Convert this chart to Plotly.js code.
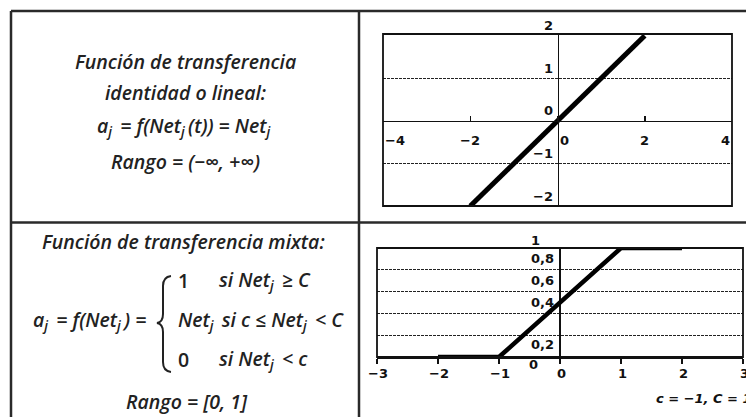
<!DOCTYPE html>
<html>
<head>
<meta charset="utf-8">
<script src="https://cdn.plot.ly/plotly-3.0.1.min.js"></script>
<style>
  html, body { margin: 0; padding: 0; background: #fff; overflow: hidden; }
  #chart { width: 746px; height: 417px; }
</style>
</head>
<body>
<div id="chart"></div>
<script>
// Identity (linear) transfer function: a = Net
const netLinear = [-2, 2];
const outLinear = [-2, 2];
const linearXTicks = [-4, -2, 0, 2, 4];
const linearXLabels = ['\u22124', '\u22122', '0', '2', '4'];
const linearYTicks = [2, 1, 0, -1, -2];
const linearYLabels = ['2', '1', '0', '\u22121', '\u22122'];
const linearGridY = [-1, 1];

// Mixed (saturating ramp) transfer function with c = -1, C = 1
const netMixed = [-2, -1, 1, 2];
const outMixed = [0, 0, 1, 1];
const mixedXTicks = [-3, -2, -1, 0, 1, 2, 3];
const mixedXLabels = ['\u22123', '\u22122', '\u22121', '0', '1', '2', '3'];
const mixedYTicks = [1, 0.8, 0.6, 0.4, 0.2, 0];
const mixedYLabels = ['1', '0,8', '0,6', '0,4', '0,2', '0'];
const mixedGridY = [0.2, 0.4, 0.6, 0.8];

// ---- page geometry (pixels) ----
const W = 746, H = 417;
const px = x => x / W;
const py = y => 1 - y / H;

const ink = '#222';
const tickFont = { family: 'DejaVu Sans', size: 13, color: '#111', weight: 'bold' };
const textFont = { family: 'Open Sans', size: 19.5, color: ink, style: 'italic', weight: 600 };

// per-label placement tweaks for the axis labels
const linearXAnchor = ['left', 'center', 'left', 'center', 'right'];
const mixedYShift = [8, 11, 11, 11, -9, -7];
const mixedYXShift = [-18, -4, -4, -4, -4, -20];

const annotations = [];

linearXTicks.forEach((v, i) => annotations.push({
  xref: 'x', yref: 'y', x: v, y: 0, text: linearXLabels[i],
  xanchor: linearXAnchor[i], yanchor: 'middle', yshift: -20,
  showarrow: false, font: tickFont
}));
linearYTicks.forEach((v, i) => annotations.push({
  xref: 'x', yref: 'y', x: 0, y: v, text: linearYLabels[i],
  xanchor: 'right', yanchor: 'middle', xshift: -3, yshift: 10,
  showarrow: false, font: tickFont
}));
mixedXTicks.forEach((v, i) => annotations.push({
  xref: 'x2', yref: 'y2', x: v, y: 0, text: mixedXLabels[i],
  xanchor: 'center', yanchor: 'middle', yshift: -16, xshift: 1,
  showarrow: false, font: tickFont
}));
mixedYTicks.forEach((v, i) => annotations.push({
  xref: 'x2', yref: 'y2', x: 0, y: v, text: mixedYLabels[i],
  xanchor: 'right', yanchor: 'middle', xshift: mixedYXShift[i], yshift: mixedYShift[i],
  showarrow: false, font: tickFont
}));

// cell texts
const sp = '\u2009';
const nb = '\u00a0';
const eq = nb + '=' + nb;
function txt(x, y, text, anchor, font) {
  annotations.push({
    xref: 'paper', yref: 'paper', x: px(x), y: py(y), text: text,
    xanchor: anchor || 'center', yanchor: 'middle', showarrow: false,
    font: Object.assign({}, textFont, font || {})
  });
}
const netj = 'Net<sub>j</sub>' + sp;
txt(185, 62, 'Función de transferencia');
txt(185, 93, 'identidad o lineal:');
txt(185, 126, 'a<sub>j</sub>' + sp + eq + 'f(' + netj + '(t))' + eq + netj);
txt(185, 161, 'Rango' + eq + '(\u2212\u221e,' + nb + '+\u221e)');

txt(183, 242, 'Función de transferencia mixta:');
txt(153, 320, 'a<sub>j</sub>' + sp + eq + 'f(' + netj + ')' + eq, 'right');
txt(176, 280, '1', 'left', { style: 'normal' });
txt(217, 280, 'si' + nb + netj + nb + '\u2265' + nb + 'C', 'left');
txt(176, 320, netj + nb + 'si' + nb + 'c' + nb + '\u2264' + nb + netj + nb + '<' + nb + 'C', 'left');
txt(176, 359, '0', 'left', { style: 'normal' });
txt(217, 359, 'si' + nb + netj + nb + '<' + nb + 'c', 'left');
txt(187, 401, 'Rango' + eq + '[0,' + nb + '1]');

annotations.push({
  xref: 'paper', yref: 'paper', x: px(654), y: py(398), text: 'c = \u22121, C = 1',
  xanchor: 'left', yanchor: 'middle', showarrow: false,
  font: { family: 'DejaVu Sans', size: 13, color: '#111', weight: 'bold', style: 'italic' }
});

// curly brace of the piecewise definition
const bracePts = [
  ['M', 171, 276], ['Q', 163, 277, 163, 286], ['L', 163, 314],
  ['Q', 163, 322, 157, 323], ['Q', 163, 324, 163, 332], ['L', 163, 362],
  ['Q', 163, 371, 171, 372]
];
const bracePath = bracePts.map(p => {
  const c = [];
  for (let k = 1; k < p.length; k += 2) c.push(px(p[k]) + ',' + py(p[k + 1]));
  return p[0] + c.join(' ');
}).join(' ');

const border = { color: '#2a2a2a', width: 2.5 };
const shapes = [
  { type: 'line', xref: 'paper', yref: 'paper', x0: px(11), x1: px(746), y0: py(11), y1: py(11), line: border },
  { type: 'line', xref: 'paper', yref: 'paper', x0: px(11), x1: px(11), y0: py(11), y1: py(417), line: border },
  { type: 'line', xref: 'paper', yref: 'paper', x0: px(359), x1: px(359), y0: py(11), y1: py(417), line: border },
  { type: 'line', xref: 'paper', yref: 'paper', x0: px(11), x1: px(746), y0: py(222.5), y1: py(222.5), line: border },
  { type: 'rect', xref: 'x domain', yref: 'y domain', x0: 0, x1: 1, y0: 0, y1: 1, line: { color: '#111', width: 1.8 } },
  { type: 'rect', xref: 'x2 domain', yref: 'y2 domain', x0: 0, x1: 1, y0: 0, y1: 1, line: { color: '#111', width: 1.8 } },
  { type: 'path', xref: 'paper', yref: 'paper', path: bracePath, line: { color: ink, width: 2 } }
];

// top chart geometry
const yRange1 = [-2, 2.04];
const yDom1 = [py(206), py(34)];
const xRange1 = [-4, 4];
const xDom1 = [px(383), px(732)];
const zeroY1 = yDom1[0] + (0 - yRange1[0]) / (yRange1[1] - yRange1[0]) * (yDom1[1] - yDom1[0]);
const zeroX1 = xDom1[0] + (0 - xRange1[0]) / (xRange1[1] - xRange1[0]) * (xDom1[1] - xDom1[0]);

const gridStyle = { showgrid: true, gridcolor: '#222', gridwidth: 1, griddash: '3px,1px' };

const layout = {
  width: W, height: H,
  margin: { l: 0, r: 0, t: 0, b: 0 },
  paper_bgcolor: '#fff', plot_bgcolor: '#fff',
  showlegend: false,
  xaxis: {
    domain: xDom1, range: xRange1, anchor: 'free', position: zeroY1,
    showline: true, linecolor: '#111', linewidth: 1.5,
    showgrid: false, zeroline: false,
    tickvals: linearXTicks, ticks: 'inside', ticklen: 5, tickcolor: '#111', tickwidth: 1.5,
    showticklabels: false, fixedrange: true
  },
  yaxis: Object.assign({
    domain: yDom1, range: yRange1, anchor: 'free', position: zeroX1,
    showline: true, linecolor: '#111', linewidth: 1.5,
    zeroline: false, tickvals: linearGridY, ticks: '',
    showticklabels: false, fixedrange: true
  }, gridStyle),
  xaxis2: {
    domain: [px(377), px(743)], range: [-3, 3], anchor: 'y2',
    showline: true, linecolor: '#111', linewidth: 1.8,
    showgrid: false, zeroline: true, zerolinecolor: '#111', zerolinewidth: 1.5,
    tickvals: mixedXTicks, ticks: 'outside', ticklen: 5, tickcolor: '#111', tickwidth: 1.5,
    showticklabels: false, fixedrange: true
  },
  yaxis2: Object.assign({
    domain: [py(357), py(248)], range: [0, 1], anchor: 'x2',
    showline: false, zeroline: false, tickvals: mixedGridY, ticks: '',
    showticklabels: false, fixedrange: true
  }, gridStyle),
  shapes: shapes,
  annotations: annotations
};

const traces = [
  { type: 'scatter', mode: 'lines', x: netLinear, y: outLinear, xaxis: 'x', yaxis: 'y',
    line: { color: '#000', width: 5 }, hoverinfo: 'skip' },
  { type: 'scatter', mode: 'lines', x: netMixed, y: outMixed, xaxis: 'x2', yaxis: 'y2',
    line: { color: '#000', width: 4.5 }, hoverinfo: 'skip' }
];

Plotly.newPlot('chart', traces, layout, { staticPlot: true, displayModeBar: false });
</script>
</body>
</html>
